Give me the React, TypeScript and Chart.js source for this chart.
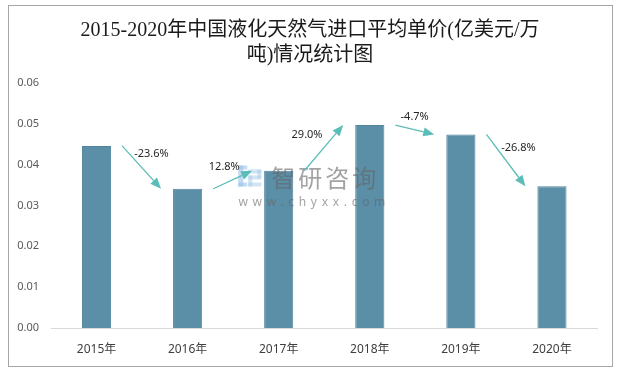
import React, { useEffect, useRef } from "react";
import { Chart, registerables } from "chart.js";

Chart.register(...registerables);

const titleLines = ["2015-2020年中国液化天然气进口平均单价(亿美元/万", "吨)情况统计图"];
const categories = ["2015年", "2016年", "2017年", "2018年", "2019年", "2020年"];
const prices = [0.0446, 0.0341, 0.0385, 0.0497, 0.0474, 0.0347];
const growthLabels = ["-23.6%", "12.8%", "29.0%", "-4.7%", "-26.8%"];
const yMin = 0;
const yMax = 0.06;
const yStep = 0.01;

const BAR_COLOR = "#5b8fa7";
const ARROW_COLOR = "#5bbdb8";

function drawArrow(ctx: CanvasRenderingContext2D, x1: number, y1: number, x2: number, y2: number) {
  const ang = Math.atan2(y2 - y1, x2 - x1);
  const headLen = 11;
  const headHalf = 4.5;
  const bx = x2 - headLen * Math.cos(ang);
  const by = y2 - headLen * Math.sin(ang);
  ctx.save();
  ctx.strokeStyle = ARROW_COLOR;
  ctx.fillStyle = ARROW_COLOR;
  ctx.lineWidth = 1.3;
  ctx.beginPath();
  ctx.moveTo(x1, y1);
  ctx.lineTo(bx, by);
  ctx.stroke();
  ctx.beginPath();
  ctx.moveTo(x2, y2);
  ctx.lineTo(bx + headHalf * Math.sin(ang), by - headHalf * Math.cos(ang));
  ctx.lineTo(bx - headHalf * Math.sin(ang), by + headHalf * Math.cos(ang));
  ctx.closePath();
  ctx.fill();
  ctx.restore();
}

const decorPlugin = {
  id: "decor",
  beforeDraw(chart: any) {
    const ctx = chart.ctx as CanvasRenderingContext2D;
    ctx.save();
    ctx.fillStyle = "#ffffff";
    ctx.fillRect(0, 0, chart.width, chart.height);
    ctx.strokeStyle = "#a6a6a6";
    ctx.lineWidth = 1;
    ctx.strokeRect(8.5, 5.5, 604, 361);
    // title
    ctx.fillStyle = "#1a1a1a";
    ctx.font = '20px "Liberation Serif", "Noto Sans CJK SC", serif';
    ctx.textAlign = "center";
    ctx.textBaseline = "middle";
    titleLines.forEach((t, i) => ctx.fillText(t, 310, 31 + i * 25));
    ctx.restore();
  },
  afterDatasetsDraw(chart: any) {
    const ctx = chart.ctx as CanvasRenderingContext2D;
    const bars = chart.getDatasetMeta(0).data;
    const area = chart.chartArea;
    // watermark
    const cx = (area.left + area.right) / 2;
    const cy = (area.top + area.bottom) / 2;
    ctx.save();
    ctx.fillStyle = "rgba(150,190,230,0.55)";
    ctx.fillRect(cx - 86, cy - 40, 5, 21);
    ctx.fillRect(cx - 86, cy - 40, 9, 4);
    ctx.fillRect(cx - 86, cy - 23, 9, 4);
    ctx.fillStyle = "rgba(170,205,235,0.55)";
    ctx.fillRect(cx - 76, cy - 36, 13, 4);
    ctx.fillRect(cx - 67, cy - 36, 4, 9);
    ctx.fillRect(cx - 76, cy - 30, 13, 4);
    ctx.fillRect(cx - 76, cy - 30, 4, 11);
    ctx.fillRect(cx - 76, cy - 23, 13, 4);
    ctx.fillStyle = "rgba(100,100,100,0.6)";
    ctx.textAlign = "center";
    ctx.textBaseline = "middle";
    ctx.font = '24px "Noto Sans CJK SC", sans-serif';
    (ctx as any).letterSpacing = "3px";
    ctx.fillText("智研咨询", cx + 1, cy - 28);
    ctx.font = '12px "Noto Sans", sans-serif';
    (ctx as any).letterSpacing = "4.7px";
    ctx.fillText("www.chyxx.com", cx - 10, cy - 3);
    (ctx as any).letterSpacing = "0px";
    ctx.restore();

    // growth arrows
    for (let i = 0; i < growthLabels.length; i++) {
      const a = bars[i];
      const b = bars[i + 1];
      if (!a || !b) continue;
      const x1 = a.x + a.width / 2 + 11;
      const y1 = a.y;
      const x2 = b.x - b.width / 2 - 12;
      const y2 = b.y;
      drawArrow(ctx, x1, y1, x2, y2);
      const mx = (x1 + x2) / 2;
      const my = (y1 + y2) / 2;
      const dx = 0.3 * (y2 - y1) - 3;
      ctx.save();
      ctx.fillStyle = "#262626";
      ctx.font = '11px "Noto Sans", sans-serif';
      ctx.textAlign = "center";
      ctx.textBaseline = "middle";
      ctx.fillText(growthLabels[i], mx + dx, my - 13);
      ctx.restore();
    }
  },
};

export default function App() {
  const canvasRef = useRef<HTMLCanvasElement | null>(null);

  useEffect(() => {
    if (!canvasRef.current) return;
    const chart = new Chart(canvasRef.current, {
      type: "bar",
      data: {
        labels: categories,
        datasets: [
          {
            data: prices,
            backgroundColor: BAR_COLOR,
            borderColor: "#52849b",
            borderWidth: 1,
            categoryPercentage: 0.8,
            barPercentage: 0.4,
          },
        ],
      },
      options: {
        animation: false,
        responsive: false,
        devicePixelRatio: 1,
        layout: { padding: { left: 8, right: 19.5, top: 83, bottom: 3 } },
        plugins: {
          legend: { display: false },
          title: { display: false },
          tooltip: { enabled: false },
        },
        scales: {
          x: {
            grid: { display: false, drawTicks: false },
            border: { display: true, color: "#d9d9d9", width: 1 },
            ticks: {
              color: "#404040",
              font: { size: 12, family: '"Noto Sans", "Noto Sans CJK SC", sans-serif' },
              padding: 14,
            },
            afterFit(scale: any) {
              scale.height = 38;
            },
          },
          y: {
            min: yMin,
            max: yMax,
            grid: { display: false, drawTicks: false },
            border: { display: false },
            ticks: {
              stepSize: yStep,
              color: "#595959",
              font: { size: 11, family: '"Noto Sans", sans-serif' },
              padding: 12,
              callback: (v: any) => Number(v).toFixed(2),
            },
            afterFit(scale: any) {
              scale.width = 43;
            },
          },
        },
      },
      plugins: [decorPlugin],
    });
    return () => chart.destroy();
  }, []);

  return (
    <div style={{ position: "fixed", left: 0, top: 0, width: 617, height: 369 }}>
      <canvas ref={canvasRef} width={617} height={369} style={{ width: 617, height: 369, display: "block" }} />
    </div>
  );
}
